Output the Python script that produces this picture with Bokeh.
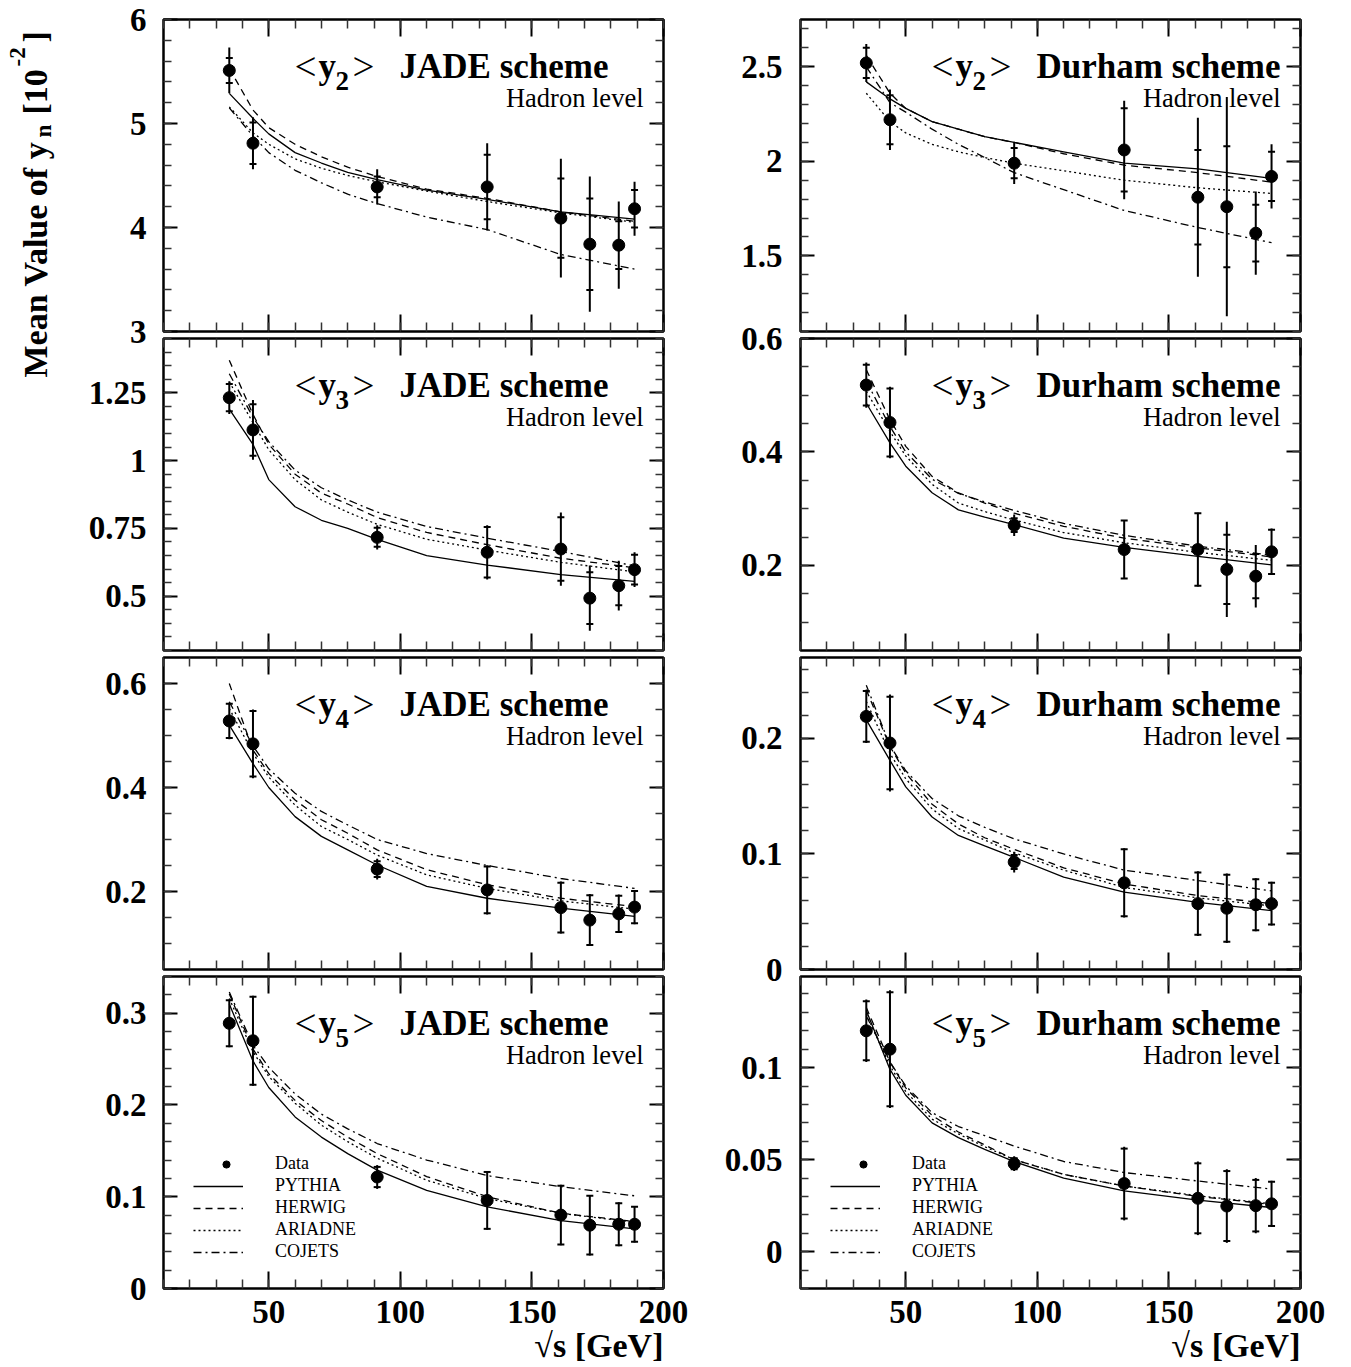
import numpy as np
from bokeh.plotting import figure
from bokeh.models import (Range1d, LinearAxis, SingleIntervalTicker, FixedTicker,
                          CustomJSTickFormatter, Label, Legend, LegendItem, Title)
from bokeh.layouts import row, column
from bokeh.embed import file_html
from bokeh.resources import INLINE

# ---------------- data ----------------
sqrt_s = [35, 44, 91.2, 133, 161, 172, 183, 189]
mc_sqrt_s = [35, 44, 50, 60, 70, 80, 91.2, 110, 133, 161, 189]

# JADE <y2>
jade_y2_val = [5.51, 4.81, 4.39, 4.39, 4.09, 3.84, 3.83, 4.18]
jade_y2_tot = [0.22, 0.25, 0.17, 0.42, 0.57, 0.65, 0.42, 0.26]
jade_y2_stat = [0.12, 0.20, 0.10, 0.31, 0.38, 0.44, 0.23, 0.18]
jade_y2_pythia = [5.29, 5.05, 4.90, 4.72, 4.62, 4.53, 4.46, 4.36, 4.27, 4.15, 4.08]
jade_y2_herwig = [5.53, 5.13, 4.96, 4.80, 4.68, 4.58, 4.49, 4.37, 4.28, 4.15, 4.06]
jade_y2_ariadne = [5.16, 4.91, 4.80, 4.66, 4.57, 4.50, 4.44, 4.35, 4.25, 4.14, 4.05]
jade_y2_cojets = [5.15, 4.88, 4.72, 4.55, 4.43, 4.32, 4.23, 4.10, 3.98, 3.74, 3.60]
jade_y2_ticks = [3, 4, 5, 6]

# Durham <y2>
durham_y2_val = [2.52, 2.22, 1.99, 2.06, 1.81, 1.76, 1.62, 1.92]
durham_y2_tot = [0.10, 0.16, 0.11, 0.26, 0.42, 0.58, 0.22, 0.17]
durham_y2_stat = [0.08, 0.13, 0.08, 0.22, 0.25, 0.32, 0.15, 0.13]
durham_y2_pythia = [2.42, 2.33, 2.28, 2.21, 2.17, 2.13, 2.10, 2.05, 1.99, 1.96, 1.91]
durham_y2_herwig = [2.56, 2.36, 2.28, 2.21, 2.17, 2.13, 2.10, 2.04, 1.98, 1.94, 1.89]
durham_y2_ariadne = [2.36, 2.21, 2.15, 2.09, 2.05, 2.02, 1.99, 1.95, 1.90, 1.86, 1.83]
durham_y2_cojets = [2.50, 2.31, 2.26, 2.17, 2.09, 2.02, 1.94, 1.85, 1.74, 1.65, 1.57]
durham_y2_ticks = [1.5, 2, 2.5]

# JADE <y3>
jade_y3_val = [1.232, 1.113, 0.717, 0.662, 0.674, 0.493, 0.539, 0.598]
jade_y3_tot = [0.06, 0.11, 0.045, 0.10, 0.135, 0.12, 0.092, 0.064]
jade_y3_stat = [0.05, 0.095, 0.035, 0.093, 0.117, 0.095, 0.072, 0.055]
jade_y3_pythia = [1.19, 1.06, 0.93, 0.83, 0.78, 0.75, 0.71, 0.65, 0.615, 0.58, 0.555]
jade_y3_herwig = [1.37, 1.17, 1.06, 0.95, 0.88, 0.84, 0.79, 0.735, 0.69, 0.64, 0.605]
jade_y3_ariadne = [1.29, 1.14, 1.04, 0.93, 0.855, 0.81, 0.765, 0.71, 0.67, 0.625, 0.59]
jade_y3_cojets = [1.32, 1.16, 1.07, 0.965, 0.90, 0.855, 0.81, 0.757, 0.714, 0.665, 0.612]
jade_y3_ticks = [0.5, 0.75, 1, 1.25]

# Durham <y3>
durham_y3_val = [0.518, 0.452, 0.271, 0.228, 0.228, 0.193, 0.181, 0.224]
durham_y3_tot = [0.040, 0.063, 0.019, 0.052, 0.065, 0.084, 0.055, 0.041]
durham_y3_stat = [0.036, 0.060, 0.012, 0.051, 0.064, 0.061, 0.039, 0.039]
durham_y3_pythia = [0.486, 0.416, 0.375, 0.328, 0.298, 0.285, 0.272, 0.248, 0.232, 0.216, 0.201]
durham_y3_herwig = [0.545, 0.457, 0.41, 0.357, 0.328, 0.31, 0.292, 0.269, 0.248, 0.231, 0.215]
durham_y3_ariadne = [0.507, 0.436, 0.393, 0.343, 0.31, 0.295, 0.28, 0.258, 0.24, 0.223, 0.209]
durham_y3_cojets = [0.525, 0.445, 0.40, 0.352, 0.327, 0.312, 0.297, 0.274, 0.253, 0.234, 0.218]
durham_y3_ticks = [0.2, 0.4, 0.6]

# JADE <y4>
jade_y4_val = [0.528, 0.484, 0.243, 0.203, 0.169, 0.145, 0.157, 0.170]
jade_y4_tot = [0.035, 0.066, 0.020, 0.047, 0.050, 0.050, 0.037, 0.033]
jade_y4_stat = [0.033, 0.063, 0.015, 0.045, 0.048, 0.048, 0.035, 0.031]
jade_y4_pythia = [0.52, 0.446, 0.40, 0.344, 0.306, 0.28, 0.251, 0.21, 0.187, 0.168, 0.152]
jade_y4_herwig = [0.60, 0.472, 0.427, 0.376, 0.338, 0.312, 0.28, 0.242, 0.213, 0.187, 0.171]
jade_y4_ariadne = [0.552, 0.466, 0.42, 0.366, 0.325, 0.30, 0.27, 0.232, 0.206, 0.182, 0.166]
jade_y4_cojets = [0.565, 0.48, 0.436, 0.389, 0.354, 0.328, 0.30, 0.273, 0.25, 0.225, 0.206]
jade_y4_ticks = [0.2, 0.4, 0.6]

# Durham <y4>
durham_y4_val = [0.219, 0.196, 0.093, 0.075, 0.057, 0.053, 0.056, 0.057]
durham_y4_tot = [0.023, 0.042, 0.009, 0.030, 0.028, 0.030, 0.023, 0.019]
durham_y4_stat = [0.022, 0.040, 0.006, 0.029, 0.027, 0.029, 0.022, 0.018]
durham_y4_pythia = [0.216, 0.181, 0.158, 0.132, 0.116, 0.107, 0.097, 0.08, 0.067, 0.058, 0.051]
durham_y4_herwig = [0.242, 0.193, 0.17, 0.143, 0.126, 0.114, 0.104, 0.088, 0.074, 0.064, 0.057]
durham_y4_ariadne = [0.232, 0.187, 0.165, 0.139, 0.122, 0.112, 0.101, 0.086, 0.071, 0.062, 0.055]
durham_y4_cojets = [0.246, 0.194, 0.172, 0.148, 0.133, 0.123, 0.113, 0.10, 0.086, 0.077, 0.068]
durham_y4_ticks = [0, 0.1, 0.2]

# JADE <y5>
jade_y5_val = [0.289, 0.270, 0.1215, 0.096, 0.080, 0.069, 0.070, 0.070]
jade_y5_tot = [0.026, 0.049, 0.013, 0.032, 0.033, 0.033, 0.024, 0.020]
jade_y5_stat = [0.025, 0.048, 0.011, 0.031, 0.032, 0.032, 0.023, 0.019]
jade_y5_pythia = [0.31, 0.248, 0.219, 0.187, 0.165, 0.147, 0.129, 0.107, 0.089, 0.074, 0.065]
jade_y5_herwig = [0.321, 0.261, 0.234, 0.205, 0.183, 0.165, 0.147, 0.122, 0.10, 0.082, 0.073]
jade_y5_ariadne = [0.316, 0.258, 0.231, 0.202, 0.178, 0.16, 0.142, 0.118, 0.098, 0.082, 0.072]
jade_y5_cojets = [0.323, 0.265, 0.241, 0.212, 0.19, 0.174, 0.158, 0.14, 0.123, 0.111, 0.101]
jade_y5_ticks = [0, 0.1, 0.2, 0.3]

# Durham <y5>
durham_y5_val = [0.120, 0.110, 0.0478, 0.037, 0.029, 0.0248, 0.025, 0.026]
durham_y5_tot = [0.017, 0.032, 0.004, 0.020, 0.020, 0.020, 0.015, 0.0125]
durham_y5_stat = [0.016, 0.031, 0.003, 0.019, 0.019, 0.019, 0.014, 0.012]
durham_y5_pythia = [0.131, 0.099, 0.085, 0.070, 0.062, 0.0556, 0.0489, 0.040, 0.033, 0.028, 0.024]
durham_y5_herwig = [0.1326, 0.103, 0.089, 0.074, 0.065, 0.058, 0.050, 0.042, 0.0357, 0.030, 0.0257]
durham_y5_ariadne = [0.129, 0.101, 0.087, 0.072, 0.064, 0.057, 0.050, 0.042, 0.0357, 0.0304, 0.026]
durham_y5_cojets = [0.128, 0.103, 0.090, 0.0755, 0.068, 0.063, 0.0574, 0.049, 0.043, 0.0384, 0.034]
durham_y5_ticks = [0, 0.05, 0.1]

model_names = ["PYTHIA", "HERWIG", "ARIADNE", "COJETS"]

# ---------------- style / layout ----------------
FONT = "Liberation Serif"
FRAME_W, FRAME_H = 500, 312
X_RANGE = (10, 200)
FRAME_TOPS = [19, 338, 657, 976]
MODEL_DASH = {"PYTHIA": "solid", "HERWIG": "7 5", "ARIADNE": "2 3", "COJETS": "8 4 2 4"}

fmt_code = "return String(Number(tick.toPrecision(4)));"
blank_code = "return '';"

panels = [
    (0, 0, 2, "JADE", jade_y2_val, jade_y2_tot, jade_y2_stat,
     [jade_y2_pythia, jade_y2_herwig, jade_y2_ariadne, jade_y2_cojets], (3.0, 6.0), 1.0, 5, jade_y2_ticks),
    (0, 1, 2, "Durham", durham_y2_val, durham_y2_tot, durham_y2_stat,
     [durham_y2_pythia, durham_y2_herwig, durham_y2_ariadne, durham_y2_cojets], (1.1, 2.75), 0.5, 5, durham_y2_ticks),
    (1, 0, 3, "JADE", jade_y3_val, jade_y3_tot, jade_y3_stat,
     [jade_y3_pythia, jade_y3_herwig, jade_y3_ariadne, jade_y3_cojets], (0.3, 1.45), 0.25, 5, jade_y3_ticks),
    (1, 1, 3, "Durham", durham_y3_val, durham_y3_tot, durham_y3_stat,
     [durham_y3_pythia, durham_y3_herwig, durham_y3_ariadne, durham_y3_cojets], (0.05, 0.6001), 0.2, 4, durham_y3_ticks),
    (2, 0, 4, "JADE", jade_y4_val, jade_y4_tot, jade_y4_stat,
     [jade_y4_pythia, jade_y4_herwig, jade_y4_ariadne, jade_y4_cojets], (0.05, 0.65), 0.2, 4, jade_y4_ticks),
    (2, 1, 4, "Durham", durham_y4_val, durham_y4_tot, durham_y4_stat,
     [durham_y4_pythia, durham_y4_herwig, durham_y4_ariadne, durham_y4_cojets], (0.0, 0.27), 0.1, 5, durham_y4_ticks),
    (3, 0, 5, "JADE", jade_y5_val, jade_y5_tot, jade_y5_stat,
     [jade_y5_pythia, jade_y5_herwig, jade_y5_ariadne, jade_y5_cojets], (0.0, 0.34), 0.1, 5, jade_y5_ticks),
    (3, 1, 5, "Durham", durham_y5_val, durham_y5_tot, durham_y5_stat,
     [durham_y5_pythia, durham_y5_herwig, durham_y5_ariadne, durham_y5_cojets], (-0.02, 0.1495), 0.05, 5, durham_y5_ticks),
]

ROW_BORDERS = [(19, 4), (3, 4), (3, 4), (3, 79)]
STRIP_BOUNDS = {0: [0, 362, 641, 953, 1367], 1: [0, 297, 652, 1018, 1367]}
STRIP_W = {0: 100, 1: 97}
STRIP_STANDOFF = {0: 13, 1: 14}
PANEL_RIGHT = {0: 37, 1: 51}
# legend rows: centre of each row measured up from the frame bottom (px)
LEGEND_ROW_Y = [125, 103, 81, 59, 37]
LEGEND_ROW_H = 22


def to_x(rel):
    return X_RANGE[0] + rel * (X_RANGE[1] - X_RANGE[0]) / FRAME_W


def to_y(rel, yr):
    return yr[1] - rel * (yr[1] - yr[0]) / FRAME_H


def style_axis(ax, is_x, show):
    ax.axis_line_color = None
    ax.major_tick_out = 0
    ax.minor_tick_out = 0
    ax.major_tick_in = 17 if is_x else 14
    ax.minor_tick_in = 9 if is_x else 8
    ax.major_tick_line_width = 2
    ax.minor_tick_line_width = 1.5
    ax.major_tick_line_color = "black"
    ax.minor_tick_line_color = "#333333"
    if show:
        ax.major_label_text_font = FONT
        ax.major_label_text_font_style = "bold"
        ax.major_label_text_font_size = "33px"
        ax.major_label_text_color = "black"
        ax.major_label_standoff = 12
    else:
        ax.major_label_text_font_size = "1px"
        ax.major_label_standoff = 0


def add_label(p, yr, text, rx, ry, size, bold=True, align="left"):
    p.add_layout(Label(x=to_x(rx), y=to_y(ry, yr), text=text, text_font=FONT,
                       text_font_size=f"{size}px", text_font_style="bold" if bold else "normal",
                       text_align=align, text_baseline="alphabetic", text_color="black"))


def one_item_legend(label, renderer, x, yc, glyph_w, standoff):
    return Legend(items=[LegendItem(label=label, renderers=[renderer])],
                  location=(x, yc - LEGEND_ROW_H // 2), padding=0, margin=0,
                  border_line_color=None, background_fill_alpha=0,
                  glyph_width=glyph_w, glyph_height=18, label_height=18, spacing=0,
                  label_standoff=standoff, label_text_font=FONT, label_text_font_size="18px",
                  label_text_color="black")


panel_figs = {}
strip_figs = {}
for (ri, ci, n, scheme, val, tot, stat, curves, yr, interval, nminor, lab_ticks) in panels:
    top_b, bot_b = ROW_BORDERS[ri]
    p = figure(frame_width=FRAME_W, frame_height=FRAME_H,
               min_border_left=3, min_border_right=PANEL_RIGHT[ci],
               min_border_top=top_b, min_border_bottom=bot_b,
               x_range=Range1d(*X_RANGE), y_range=Range1d(*yr),
               x_axis_location=None, y_axis_location=None,
               toolbar_location=None, output_backend="svg",
               background_fill_color="white", border_fill_color="white",
               outline_line_color="black", outline_line_width=2.5)
    p.grid.visible = False
    for loc in ("below", "above", "left", "right"):
        is_x = loc in ("below", "above")
        if is_x:
            tk = SingleIntervalTicker(interval=50, num_minor_ticks=5)
        else:
            tk = SingleIntervalTicker(interval=interval, num_minor_ticks=nminor)
        show = (loc == "below" and ri == 3)
        ax = LinearAxis(ticker=tk,
                        formatter=CustomJSTickFormatter(code=fmt_code if show else blank_code))
        style_axis(ax, is_x, show)
        p.add_layout(ax, loc)

    line_rs = []
    for name, ys in zip(model_names, curves):
        r = p.line(mc_sqrt_s, ys, line_color="black", line_width=1.3,
                   line_dash=MODEL_DASH[name])
        line_rs.append(r)

    v = np.array(val)
    t = np.array(tot)
    s = np.array(stat)
    xs = np.array(sqrt_s, dtype=float)
    p.segment(x0=xs, y0=v - t, x1=xs, y1=v + t, line_color="black", line_width=2)
    p.scatter(np.concatenate([xs, xs]), np.concatenate([v - s, v + s]), marker="dash",
              size=7, line_color="black", line_width=2)
    dots = p.scatter(xs, v, size=12, fill_color="black", line_color="black")

    # panel title: <y_n>  scheme
    add_label(p, yr, "<", 131, 47, 39, bold=False)
    add_label(p, yr, "y", 155, 47, 35)
    add_label(p, yr, str(n), 172, 61, 27)
    add_label(p, yr, ">", 189, 47, 39, bold=False)
    add_label(p, yr, f"{scheme} scheme", 236, 47, 35)
    add_label(p, yr, "Hadron level", 480, 78, 26.5, bold=False, align="right")

    if ri == 3:
        p.add_layout(Title(text="\u221as [GeV]", align="right", text_font=FONT,
                           text_font_size="34px", text_font_style="bold", text_color="black",
                           standoff=-2, offset=0), "below")
        p.add_layout(one_item_legend("Data", dots, 38, LEGEND_ROW_Y[0], 50, 24))
        for k, (name, r) in enumerate(zip(model_names, line_rs)):
            p.add_layout(one_item_legend(name, r, 30, LEGEND_ROW_Y[k + 1], 50, 32))
    panel_figs[(ri, ci)] = p

    # tick-label strip belonging to this panel (its own axis on an extended scale)
    a, b = STRIP_BOUNDS[ci][ri], STRIP_BOUNDS[ci][ri + 1]
    T = FRAME_TOPS[ri]
    scale = (yr[1] - yr[0]) / FRAME_H
    s_start = yr[0] - (b - (T + FRAME_H)) * scale
    s_end = yr[1] + (T - a) * scale
    w = STRIP_W[ci]
    sf = figure(frame_width=1, frame_height=b - a, min_border_left=w - 1, min_border_right=0,
                min_border_top=0, min_border_bottom=0,
                x_range=Range1d(0, 1), y_range=Range1d(s_start, s_end),
                x_axis_location=None, y_axis_location=None, toolbar_location=None,
                output_backend="svg", outline_line_color=None,
                background_fill_color="white", border_fill_color="white")
    sf.grid.visible = False
    sax = LinearAxis(ticker=FixedTicker(ticks=lab_ticks, minor_ticks=[]),
                     formatter=CustomJSTickFormatter(code=fmt_code))
    sax.axis_line_color = None
    sax.major_tick_in = 0
    sax.major_tick_out = 0
    sax.minor_tick_in = 0
    sax.minor_tick_out = 0
    sax.major_tick_line_color = None
    sax.major_label_text_font = FONT
    sax.major_label_text_font_style = "bold"
    sax.major_label_text_font_size = "33px"
    sax.major_label_text_color = "black"
    sax.major_label_standoff = STRIP_STANDOFF[ci]
    sf.add_layout(sax, "left")
    strip_figs[(ri, ci)] = sf

# vertical y-axis title
ylab = figure(frame_width=60, frame_height=1367, min_border=0,
              x_range=Range1d(0, 60), y_range=Range1d(0, 1367),
              x_axis_location=None, y_axis_location=None, toolbar_location=None,
              output_backend="svg", outline_line_color=None,
              background_fill_color="white", border_fill_color="white")
ylab.grid.visible = False


def ylab_piece(text, x, py, size):
    ylab.add_layout(Label(x=x, y=1367 - py, text=text, angle=np.pi / 2, text_font=FONT,
                          text_font_size=f"{size}px", text_font_style="bold",
                          text_align="left", text_baseline="alphabetic", text_color="black"))


ylab_piece("Mean Value of y", 35, 377, 34)
ylab_piece("n", 43, 137, 23)
ylab_piece("[10", 35, 114, 34)
ylab_piece("-2", 17, 66, 23)
ylab_piece("]", 35, 42, 34)

layout = row(ylab,
             column(*[strip_figs[(r, 0)] for r in range(4)]),
             column(*[panel_figs[(r, 0)] for r in range(4)]),
             column(*[strip_figs[(r, 1)] for r in range(4)]),
             column(*[panel_figs[(r, 1)] for r in range(4)]))

open("out.html", "w").write(file_html(layout, INLINE))
